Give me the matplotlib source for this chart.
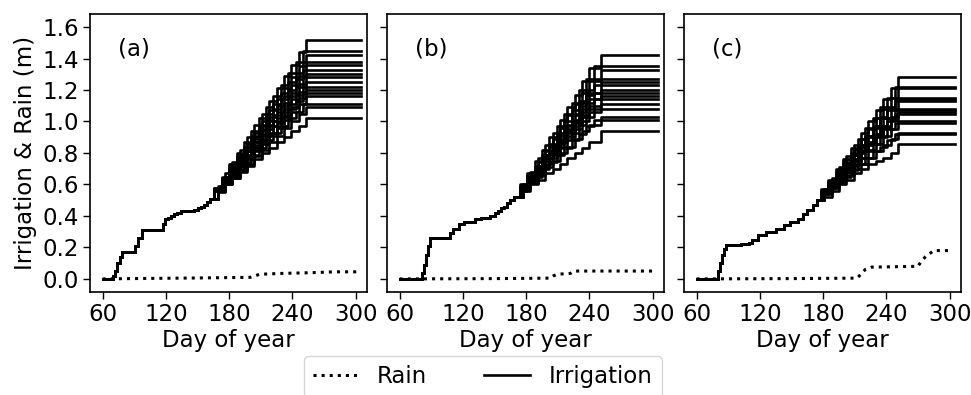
import matplotlib
matplotlib.use("Agg")
import matplotlib.pyplot as plt

# ---------------- data ----------------
x_ticks = [60, 120, 180, 240, 300]
y_ticks = [0.0, 0.2, 0.4, 0.6, 0.8, 1.0, 1.2, 1.4, 1.6]
panel_labels = ["(a)", "(b)", "(c)"]
end_day = 305

# panel (a)
a_base_days = [60, 70, 72, 74, 76, 78, 91, 94, 97, 117, 119, 122, 125, 128, 131, 134, 147, 150, 153, 156, 159, 162]
a_base_vals = [0.0, 0.02, 0.05, 0.10, 0.14, 0.17, 0.21, 0.26, 0.31, 0.35, 0.38, 0.39, 0.40, 0.41, 0.42, 0.43, 0.44, 0.45, 0.46, 0.47, 0.49, 0.51]
a_days_A = [166, 173, 180, 187, 194, 201, 208, 215, 222, 229, 236, 243, 250]
a_days_B = [169, 176, 183, 190, 197, 204, 211, 218, 225, 232, 239, 246, 253]
a_phase = ["B", "A", "B", "A", "B", "A", "B", "A", "B", "A", "B", "A", "B", "A", "B", "B"]
a_curves = [
    [0.59, 0.67, 0.74, 0.82, 0.90, 0.98, 1.05, 1.13, 1.21, 1.29, 1.36, 1.44, 1.52],
    [0.58, 0.65, 0.73, 0.80, 0.87, 0.94, 1.02, 1.09, 1.16, 1.23, 1.31, 1.38, 1.45],
    [0.58, 0.65, 0.72, 0.79, 0.86, 0.93, 1.00, 1.07, 1.14, 1.21, 1.28, 1.35, 1.42],
    [0.58, 0.64, 0.71, 0.78, 0.84, 0.91, 0.98, 1.05, 1.11, 1.18, 1.25, 1.31, 1.38],
    [0.58, 0.64, 0.71, 0.77, 0.84, 0.90, 0.97, 1.03, 1.10, 1.16, 1.23, 1.29, 1.36],
    [0.57, 0.64, 0.70, 0.76, 0.83, 0.89, 0.95, 1.01, 1.08, 1.14, 1.20, 1.27, 1.33],
    [0.57, 0.63, 0.69, 0.75, 0.81, 0.87, 0.94, 1.00, 1.06, 1.12, 1.18, 1.24, 1.30],
    [0.57, 0.63, 0.69, 0.75, 0.81, 0.87, 0.92, 0.98, 1.04, 1.10, 1.16, 1.22, 1.28],
    [0.57, 0.62, 0.68, 0.74, 0.79, 0.85, 0.91, 0.97, 1.02, 1.08, 1.14, 1.19, 1.25],
    [0.56, 0.62, 0.67, 0.73, 0.78, 0.84, 0.89, 0.95, 1.00, 1.06, 1.11, 1.17, 1.22],
    [0.56, 0.62, 0.67, 0.72, 0.78, 0.83, 0.88, 0.93, 0.99, 1.04, 1.09, 1.15, 1.20],
    [0.56, 0.61, 0.66, 0.72, 0.77, 0.82, 0.87, 0.92, 0.97, 1.03, 1.08, 1.13, 1.18],
    [0.56, 0.61, 0.66, 0.71, 0.76, 0.81, 0.86, 0.91, 0.96, 1.01, 1.06, 1.11, 1.16],
    [0.56, 0.60, 0.65, 0.69, 0.74, 0.79, 0.83, 0.88, 0.93, 0.97, 1.02, 1.06, 1.11],
    [0.55, 0.60, 0.64, 0.69, 0.73, 0.78, 0.82, 0.87, 0.91, 0.96, 1.00, 1.05, 1.09],
    [0.56, 0.60, 0.64, 0.68, 0.72, 0.76, 0.80, 0.83, 0.87, 0.90, 0.94, 0.97, 1.02],
]
a_rain_days = [60, 100, 150, 200, 204, 210, 230, 260, 280, 302]
a_rain_vals = [0.0, 0.003, 0.006, 0.01, 0.02, 0.03, 0.035, 0.04, 0.045, 0.045]

# panel (b)
b_base_days = [60, 81, 83, 85, 87, 89, 108, 111, 116, 121, 131, 137, 146, 150, 153, 156, 159, 162, 165, 168]
b_base_vals = [0.0, 0.04, 0.09, 0.15, 0.21, 0.26, 0.29, 0.32, 0.35, 0.36, 0.38, 0.39, 0.40, 0.42, 0.43, 0.45, 0.46, 0.48, 0.50, 0.52]
b_days_A = [174, 181, 188, 195, 202, 209, 216, 223, 230, 237, 244]
b_days_B = [177, 184, 191, 198, 205, 212, 219, 226, 233, 240, 251]
b_phase = ["B", "A", "B", "A", "B", "A", "B", "A", "B", "A", "B", "A", "B", "A", "B"]
b_curves = [
    [0.60, 0.68, 0.77, 0.85, 0.93, 1.01, 1.09, 1.17, 1.26, 1.34, 1.42],
    [0.60, 0.67, 0.75, 0.82, 0.90, 0.97, 1.05, 1.12, 1.20, 1.27, 1.35],
    [0.59, 0.67, 0.74, 0.81, 0.89, 0.96, 1.04, 1.11, 1.18, 1.26, 1.33],
    [0.59, 0.66, 0.72, 0.79, 0.86, 0.93, 1.00, 1.07, 1.13, 1.20, 1.27],
    [0.59, 0.65, 0.72, 0.79, 0.85, 0.92, 0.98, 1.05, 1.12, 1.18, 1.25],
    [0.58, 0.65, 0.71, 0.78, 0.84, 0.91, 0.97, 1.04, 1.10, 1.17, 1.23],
    [0.58, 0.64, 0.71, 0.77, 0.83, 0.89, 0.95, 1.01, 1.08, 1.14, 1.20],
    [0.58, 0.64, 0.70, 0.76, 0.82, 0.88, 0.94, 1.00, 1.06, 1.12, 1.18],
    [0.58, 0.64, 0.69, 0.75, 0.81, 0.87, 0.93, 0.99, 1.04, 1.10, 1.16],
    [0.58, 0.63, 0.69, 0.75, 0.80, 0.86, 0.91, 0.97, 1.03, 1.08, 1.14],
    [0.57, 0.63, 0.68, 0.73, 0.79, 0.84, 0.90, 0.95, 1.00, 1.06, 1.11],
    [0.57, 0.62, 0.67, 0.72, 0.77, 0.83, 0.88, 0.93, 0.98, 1.03, 1.08],
    [0.57, 0.61, 0.66, 0.71, 0.75, 0.80, 0.84, 0.89, 0.94, 0.98, 1.03],
    [0.56, 0.61, 0.65, 0.70, 0.74, 0.79, 0.83, 0.88, 0.92, 0.97, 1.01],
    [0.56, 0.60, 0.63, 0.67, 0.70, 0.73, 0.77, 0.80, 0.83, 0.87, 0.94],
]
b_rain_days = [60, 150, 203, 206, 210, 222, 226, 302]
b_rain_vals = [0.0, 0.002, 0.005, 0.02, 0.03, 0.035, 0.05, 0.05]

# panel (c)
c_base_days = [60, 80, 82, 84, 86, 88, 102, 110, 113, 118, 126, 135, 143, 149, 156, 161, 165, 170, 174]
c_base_vals = [0.0, 0.05, 0.10, 0.15, 0.19, 0.215, 0.22, 0.23, 0.25, 0.28, 0.30, 0.32, 0.34, 0.36, 0.38, 0.41, 0.44, 0.47, 0.50]
c_days_A = [178, 185, 192, 199, 206, 213, 220, 227, 234, 241, 248]
c_days_B = [181, 188, 195, 202, 209, 216, 223, 230, 237, 244, 251]
c_phase = ["B", "A", "B", "A", "B", "A", "B", "A", "B", "A", "B", "A", "B", "A", "B"]
c_curves = [
    [0.57, 0.64, 0.71, 0.78, 0.85, 0.93, 1.00, 1.07, 1.14, 1.21, 1.28],
    [0.57, 0.63, 0.70, 0.76, 0.83, 0.89, 0.96, 1.02, 1.09, 1.15, 1.22],
    [0.56, 0.63, 0.69, 0.76, 0.82, 0.89, 0.95, 1.02, 1.08, 1.15, 1.21],
    [0.56, 0.62, 0.68, 0.74, 0.80, 0.85, 0.91, 0.97, 1.03, 1.09, 1.15],
    [0.56, 0.62, 0.67, 0.73, 0.79, 0.85, 0.91, 0.97, 1.02, 1.08, 1.14],
    [0.56, 0.61, 0.67, 0.73, 0.79, 0.84, 0.90, 0.96, 1.02, 1.07, 1.13],
    [0.55, 0.61, 0.66, 0.71, 0.76, 0.82, 0.87, 0.92, 0.97, 1.03, 1.08],
    [0.55, 0.60, 0.66, 0.71, 0.76, 0.81, 0.86, 0.91, 0.97, 1.02, 1.07],
    [0.55, 0.60, 0.65, 0.70, 0.75, 0.81, 0.86, 0.91, 0.96, 1.01, 1.06],
    [0.55, 0.60, 0.65, 0.70, 0.75, 0.80, 0.85, 0.90, 0.95, 1.00, 1.05],
    [0.55, 0.59, 0.64, 0.68, 0.73, 0.77, 0.82, 0.86, 0.91, 0.95, 1.00],
    [0.54, 0.59, 0.63, 0.68, 0.72, 0.77, 0.81, 0.86, 0.90, 0.95, 0.99],
    [0.54, 0.58, 0.62, 0.66, 0.70, 0.73, 0.77, 0.81, 0.85, 0.89, 0.93],
    [0.54, 0.58, 0.61, 0.65, 0.69, 0.73, 0.77, 0.81, 0.84, 0.88, 0.92],
    [0.52, 0.56, 0.60, 0.63, 0.67, 0.70, 0.73, 0.75, 0.77, 0.80, 0.86],
]
c_rain_days = [60, 150, 212, 216, 220, 226, 270, 273, 277, 281, 285, 302]
c_rain_vals = [0.0, 0.002, 0.005, 0.03, 0.06, 0.075, 0.08, 0.11, 0.14, 0.16, 0.18, 0.18]

panels = [
    (a_base_days, a_base_vals, a_days_A, a_days_B, a_phase, a_curves, a_rain_days, a_rain_vals),
    (b_base_days, b_base_vals, b_days_A, b_days_B, b_phase, b_curves, b_rain_days, b_rain_vals),
    (c_base_days, c_base_vals, c_days_A, c_days_B, c_phase, c_curves, c_rain_days, c_rain_vals),
]

# ---------------- figure ----------------
FS = 16.5
plt.rcParams["font.family"] = ["DejaVu Sans"]
plt.rcParams["font.size"] = FS

fig = plt.figure(figsize=(9.71, 3.95), dpi=100)
lefts = [0.0927, 0.3986, 0.7044]
width = 0.2855
bottom, height = 0.2608, 0.7038

axes = []
for i, (bd, bv, dA, dB, ph, curves, rd, rv) in enumerate(panels):
    ax = fig.add_axes([lefts[i], bottom, width, height], sharey=axes[0] if axes else None)
    axes.append(ax)
    rain_line, = ax.plot(rd, rv, color="black", lw=2.2, linestyle=(0, (1, 1.65)))
    for phase, vals in zip(ph, curves):
        sd = dA if phase == "A" else dB
        days = list(bd) + list(sd) + [end_day]
        cum = list(bv) + list(vals) + [vals[-1]]
        irr_line, = ax.plot(days, cum, color="black", lw=1.9, drawstyle="steps-post")
    ax.set_xlim(48, 311)
    ax.set_ylim(-0.083, 1.683)
    ax.set_xticks(x_ticks)
    ax.set_yticks(y_ticks)
    ax.set_xlabel("Day of year", fontsize=FS, labelpad=2)
    ax.tick_params(axis="both", labelsize=FS, length=5, width=1.0, pad=3)
    for s in ax.spines.values():
        s.set_linewidth(1.2)
    ax.text(0.10, 0.875, panel_labels[i], transform=ax.transAxes, fontsize=FS, va="center", ha="left")
    if i == 0:
        ax.set_ylabel("Irrigation & Rain (m)", fontsize=FS, labelpad=4)
        ax.yaxis.set_major_formatter(matplotlib.ticker.FormatStrFormatter("%.1f"))
    else:
        ax.tick_params(axis="y", labelleft=False)

fig.legend([rain_line, irr_line], ["Rain", "Irrigation"], loc="upper center",
           bbox_to_anchor=(0.497, 0.098), ncol=2, fontsize=FS, columnspacing=2.5,
           handlelength=2.0, borderaxespad=0.0)

fig.savefig("out.png", dpi=100)
